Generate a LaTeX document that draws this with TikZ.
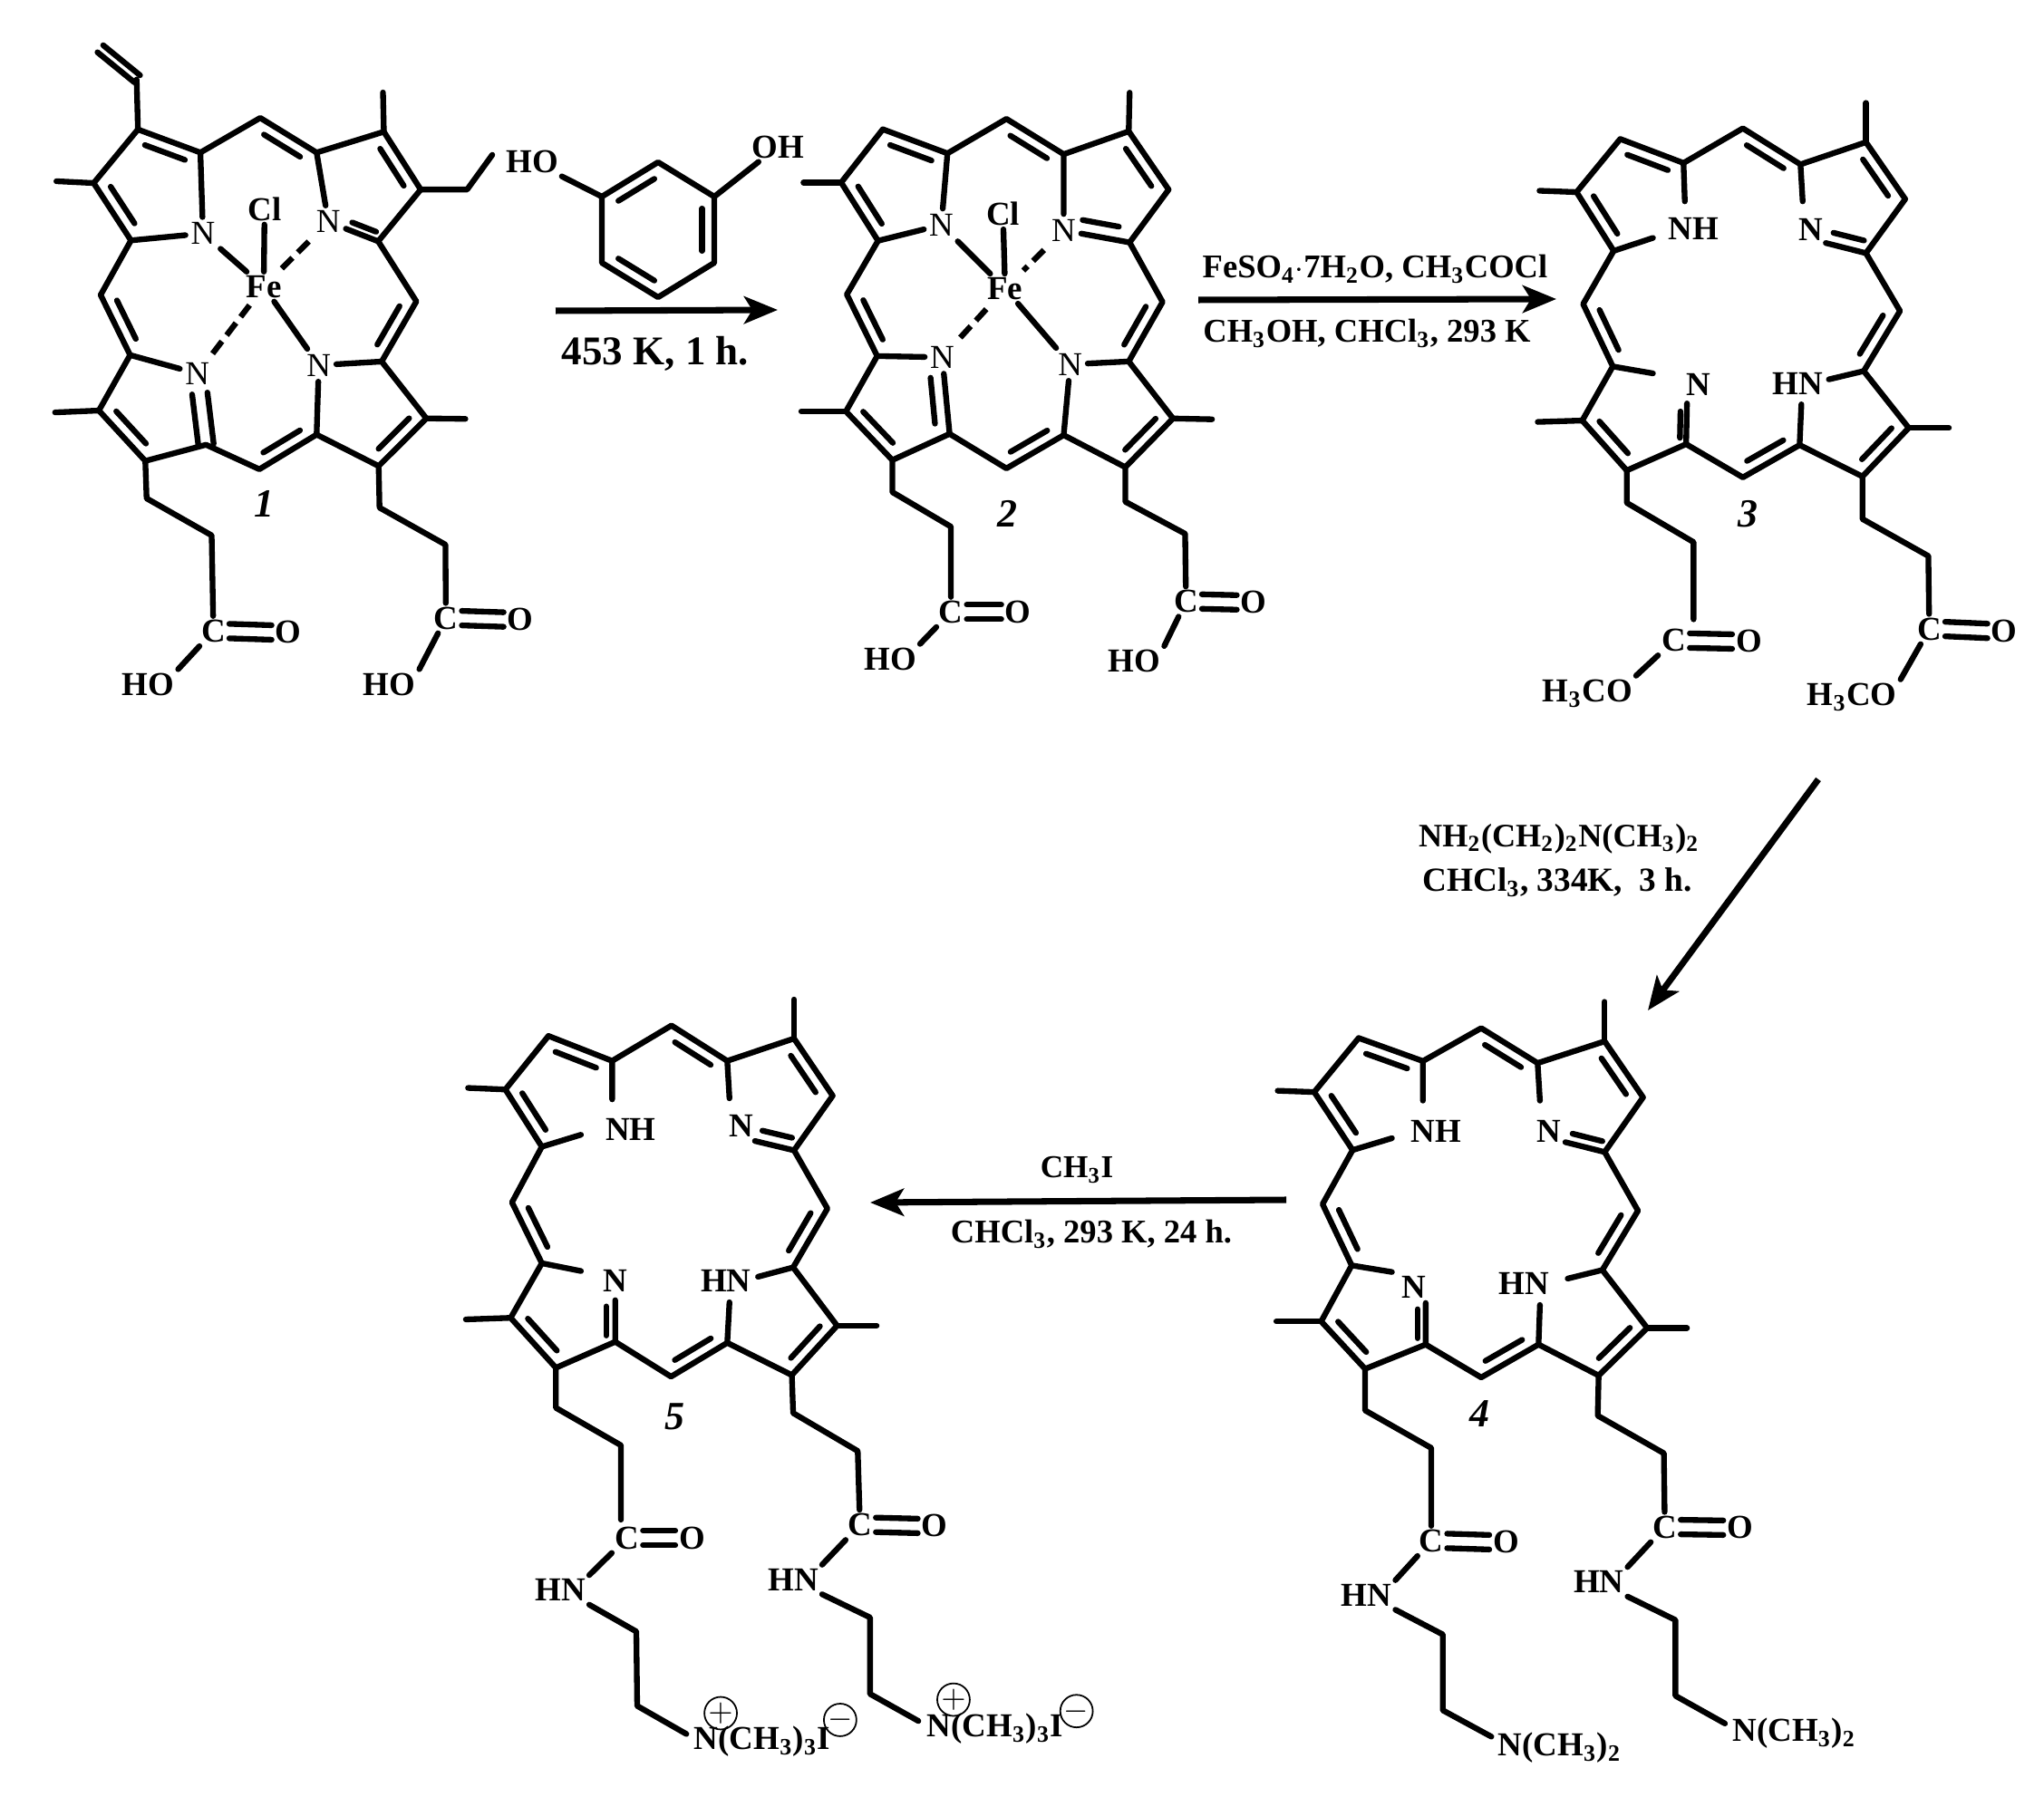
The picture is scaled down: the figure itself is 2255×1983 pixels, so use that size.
\documentclass[tikz,border=0pt]{standalone}
\usepackage{fontspec}
\setmainfont{Liberation Serif}
\usetikzlibrary{calc,arrows.meta}
\tikzset{
  bond/.style={line width=1.8pt,line join=round,line cap=round},
  dashbond/.style={bond,line cap=butt,shorten >=.05cm,shorten <=.05cm,dash pattern=on .17cm off .085cm},
  atom/.style={font=\bfseries\fontsize{10.5}{12}\selectfont,inner sep=1pt},
  atomn/.style={font=\fontsize{10.5}{12}\selectfont,inner sep=1.5pt},
  tag/.style={font=\bfseries\itshape\fontsize{12.5}{14}\selectfont,inner sep=0pt},
  cond/.style={font=\bfseries\fontsize{10.4}{12}\selectfont,inner sep=0pt},
  charge/.style={circle,draw,line width=.5pt,minimum size=.29cm,inner sep=0pt},
  rxn/.style={line width=2pt,-{Stealth[length=.37cm,width=.3cm,inset=.09cm]}},
}
% inner line of a double bond, on the left of the direction a to b
\newcommand{\inbond}[5][.135cm]{\draw[bond] ($(#2)!#4!(#3)!#1!90:(#3)$) -- ($(#3)!#5!(#2)!#1!-90:(#2)$);}
% carbon skeleton, same in all five
\newcommand{\porphring}[1]{%
  \draw[bond] (#1a1)--(#1a2)--(#1a3)--(#1m4)--(#1d4)--(#1d3)--(#1d2)--(#1d1)--(#1m3)--(#1c4)--(#1c3)--(#1c2)--(#1c1)--(#1m2)--(#1b4)--(#1b3)--(#1b2)--(#1b1)--(#1m1)--(#1a4)--cycle;
  \foreach \p/\q in {a4/a1,a2/a3,b1/m1,b3/b2,c1/m2,c3/c2,m3/c4,d3/d2,m4/d4}
    \inbond{#1\p}{#1\q}{.18}{.18};
  \foreach \p/\q in {a2/h1,b2/h2,c2/h3,d3/h4}
    \draw[bond] (#1\p) -- (#1\q);
}
\begin{document}
\begin{tikzpicture}[x=.01cm,y=-.01cm]
\useasboundingbox (0,0) rectangle (2255,1983);

% compound 1
\begin{scope}[xscale=.4785,yscale=.5102]
  \foreach \n/\x/\y in {a1/318/280,a2/216/396,a3/302/520,a4/462/330,m1/600/255,b1/730/330,b2/885/285,b3/970/410,b4/872/522,
    m2/960/652,c1/880/782,c2/983/905,c3/873/1008,c4/730/940,m3/598/1015,d1/475/962,d2/335/997,d3/228/888,d4/300/768,m4/232/638,
    h1/130/392,h2/883/200,h3/1073/906,h4/127/892,v1/315/172,v2/230/107,e1/1077/410,e2/1135/335,
    s1/338/1078,s2/488/1158,t1/875/1098,t2/1027/1178}
    \coordinate (m1\n) at (\x,\y);
  \node[atomn] (m1N1) at (468,505) {N};
  \node[atomn] (m1N2) at (757,480) {N};
  \node[atomn] (m1N3) at (735,790) {N};
  \node[atomn] (m1N4) at (455,808) {N};
  \node[atom] (m1Fe) at (608,620) {Fe};
  \node[atom] (m1Cl) at (610,452) {Cl};
  \node[atom] (m1C1) at (492,1365) {C};
  \node[atom] (m1O1) at (665,1368) {O};
  \node[atom] (m1HO1) at (342,1480) {HO};
  \node[atom] (m1C2) at (1028,1337) {C};
  \node[atom] (m1O2) at (1200,1340) {O};
  \node[atom] (m1HO2) at (898,1480) {HO};
  \node[tag] (m1tag) at (610,1090) {1};
\end{scope}
\porphring{m1}
\draw[bond] (m1a3) -- (m1N1) -- (m1a4) (m1b1) -- (m1N2) -- (m1b4) (m1c1) -- (m1N3) -- (m1c4);
\draw[bond] (m1d4) -- (m1N4);
\inbond[.085cm]{m1d1}{m1N4}{0}{.28}
\inbond[-.085cm]{m1d1}{m1N4}{0}{.28}
\inbond[.09cm]{m1N2}{m1b4}{.42}{.1}
\draw[bond] (m1a1) -- (m1v1);
\inbond[.04cm]{m1v1}{m1v2}{0}{0}
\inbond[-.06cm]{m1v1}{m1v2}{0}{0}
\draw[bond] (m1b3) -- (m1e1) -- (m1e2);
\draw[bond] (m1N1) -- (m1Fe) (m1N3) -- (m1Fe) (m1Cl) -- (m1Fe);
\draw[dashbond] (m1N2) -- (m1Fe);
\draw[dashbond] (m1N4) -- (m1Fe);
\draw[bond] (m1d2) -- (m1s1) -- (m1s2) -- (m1C1);
\draw[bond] (m1c3) -- (m1t1) -- (m1t2) -- (m1C2);
\draw[bond] ([yshift=.08cm]m1C1.east) -- ([yshift=.08cm]m1O1.west);
\draw[bond] ([yshift=-.08cm]m1C1.east) -- ([yshift=-.08cm]m1O1.west);
\draw[bond] ([yshift=.08cm]m1C2.east) -- ([yshift=.08cm]m1O2.west);
\draw[bond] ([yshift=-.08cm]m1C2.east) -- ([yshift=-.08cm]m1O2.west);
\draw[bond] (m1C1) -- (m1HO1.north east);
\draw[bond] (m1C2) -- (m1HO2.north east);

% resorcinol
\foreach \n/\x/\y in {r1/726/179,r2/664/217,r3/664/290,r4/726/328,r5/788/290,r6/788/217}
  \coordinate (\n) at (\x,\y);
\node[atom] (rHO) at (587,178) {HO};
\node[atom] (rOH) at (858,162) {OH};
\draw[bond] (r1) -- (r2) -- (r3) -- (r4) -- (r5) -- (r6) -- cycle;
\foreach \p/\q in {r1/r2,r3/r4,r5/r6}
  \inbond{\p}{\q}{.18}{.18};
\draw[bond] (r2) -- (rHO);
\draw[bond] (r6) -- (rOH);

% first arrow
\coordinate (ar1a) at (613,343);
\coordinate (ar1b) at (858,342);
\draw[rxn] (ar1a) -- (ar1b);
\node[cond,font=\bfseries\fontsize{12.8}{14}\selectfont] (ar1t) at (723,390) {453 K, 1 h.};

% compound 2
\begin{scope}[shift={(750,60)},xscale=.4785,yscale=.4592]
  \foreach \n/\x/\y in {a1/468/180,a2/372/308,a3/457/448,a4/617/238,m1/753/155,b1/885/240,b2/1035/185,b3/1127/325,b4/1037/452,
    m2/1113/595,c1/1035/738,c2/1137/875,c3/1027/992,c4/885/915,m3/753/995,d1/622/912,d2/490/975,d3/383/858,d4/455/725,m4/385/577,
    h1/285/308,h2/1037/92,h3/1227/877,h4/280/858,
    s1/490/1052,s2/625/1135,t1/1027/1075,t2/1165/1152}
    \coordinate (m2\n) at (\x,\y);
  \node[atomn] (m2N1) at (603,410) {N};
  \node[atomn] (m2N2) at (885,423) {N};
  \node[atomn] (m2N3) at (900,745) {N};
  \node[atomn] (m2N4) at (605,728) {N};
  \node[atom] (m2Fe) at (750,563) {Fe};
  \node[atom] (m2Cl) at (745,383) {Cl};
  \node[atom] (m2C1) at (625,1340) {C};
  \node[atom] (m2O1) at (780,1340) {O};
  \node[atom] (m2HO1) at (485,1453) {HO};
  \node[atom] (m2C2) at (1167,1315) {C};
  \node[atom] (m2O2) at (1323,1317) {O};
  \node[atom] (m2HO2) at (1048,1458) {HO};
  \node[tag] (m2tag) at (755,1105) {2};
\end{scope}
\porphring{m2}
\draw[bond] (m2a3) -- (m2N1) -- (m2a4) (m2b1) -- (m2N2) -- (m2b4) (m2c1) -- (m2N3) -- (m2c4);
\draw[bond] (m2d4) -- (m2N4) -- (m2d1);
\inbond[.15cm]{m2d1}{m2N4}{.15}{.25}
\inbond[.15cm]{m2N2}{m2b4}{.25}{.2}
\draw[bond] (m2N1) -- (m2Fe) (m2N3) -- (m2Fe) (m2Cl) -- (m2Fe);
\draw[dashbond] (m2N2) -- (m2Fe);
\draw[dashbond] (m2N4) -- (m2Fe);
\draw[bond] (m2d2) -- (m2s1) -- (m2s2) -- (m2C1);
\draw[bond] (m2c3) -- (m2t1) -- (m2t2) -- (m2C2);
\draw[bond] ([yshift=.08cm]m2C1.east) -- ([yshift=.08cm]m2O1.west);
\draw[bond] ([yshift=-.08cm]m2C1.east) -- ([yshift=-.08cm]m2O1.west);
\draw[bond] ([yshift=.08cm]m2C2.east) -- ([yshift=.08cm]m2O2.west);
\draw[bond] ([yshift=-.08cm]m2C2.east) -- ([yshift=-.08cm]m2O2.west);
\draw[bond] (m2C1) -- (m2HO1.north east);
\draw[bond] (m2C2) -- (m2HO2.north east);

% second arrow
\coordinate (ar2a) at (1322,331);
\coordinate (ar2b) at (1717,330);
\draw[rxn] (ar2a) -- (ar2b);
\node[cond] (ar2t) at (1517,297) {FeSO\textsubscript{4}$\cdot$7H\textsubscript{2}O, CH\textsubscript{3}COCl};
\node[cond] (ar2u) at (1508,368) {CH\textsubscript{3}OH, CHCl\textsubscript{3}, 293 K};

% compound 3
\begin{scope}[shift={(1500,60)},xscale=.4815,yscale=.5102]
  \foreach \n/\x/\y in {a1/597/183,a2/497/298,a3/582/425,a4/742/235,m1/878/160,b1/1010/238,b2/1160/190,b3/1250/313,b4/1160/430,
    m2/1238/555,c1/1155/685,c2/1258/808,c3/1152/913,c4/1008/845,m3/878/915,d1/748/843,d2/612/900,d3/510/792,d4/580/675,m4/512/540,
    h1/412/295,h2/1160/105,h3/1350/808,h4/408/795,
    q1/745/318,q2/672/397,q3/1015/318,q4/1068/408,q5/1075/703,q6/1012/757,q7/672/690,q8/750/755,
    s1/612/970,s2/765/1055,s3/765/1222,t1/1152/1005,t2/1303/1085}
    \coordinate (m3\n) at (\x,\y);
  \node[atom] (m3NH) at (765,377) {NH};
  \node[atom] (m3N2) at (1033,380) {N};
  \node[atom] (m3HN) at (1003,712) {HN};
  \node[atom] (m3N4) at (777,715) {N};
  \node[atom] (m3C1) at (720,1268) {C};
  \node[atom] (m3O1) at (892,1270) {O};
  \node[atom] (m3Me1) at (522,1382) {H\textsubscript{3}CO};
  \node[atom] (m3C2) at (1305,1243) {C};
  \node[atom] (m3O2) at (1477,1247) {O};
  \node[atom] (m3Me2) at (1128,1390) {H\textsubscript{3}CO};
  \node[tag] (m3tag) at (890,995) {3};
\end{scope}
\porphring{m3}
\draw[bond] (m3a4) -- (m3q1) (m3a3) -- (m3q2) (m3b1) -- (m3q3) (m3b4) -- (m3q4);
\draw[bond] (m3c1) -- (m3q5) (m3c4) -- (m3q6) (m3d4) -- (m3q7) (m3d1) -- (m3q8);
\inbond[.13cm]{m3q4}{m3b4}{.12}{.12}
\inbond[.07cm]{m3d1}{m3q8}{.15}{.2}
\draw[bond] (m3d2) -- (m3s1) -- (m3s2) -- (m3s3);
\draw[bond] (m3c3) -- (m3t1) -- (m3t2) -- (m3C2);
\draw[bond] ([yshift=.08cm]m3C1.east) -- ([yshift=.08cm]m3O1.west);
\draw[bond] ([yshift=-.08cm]m3C1.east) -- ([yshift=-.08cm]m3O1.west);
\draw[bond] ([yshift=.08cm]m3C2.east) -- ([yshift=.08cm]m3O2.west);
\draw[bond] ([yshift=-.08cm]m3C2.east) -- ([yshift=-.08cm]m3O2.west);
\draw[bond] (m3C1) -- (m3Me1.north east);
\draw[bond] (m3C2) -- (m3Me2.north east);

% third arrow
\coordinate (ar3a) at (2006,860);
\coordinate (ar3b) at (1818,1115);
\draw[rxn] (ar3a) -- (ar3b);
\node[cond,font=\bfseries\fontsize{10.3}{12}\selectfont] (ar3t) at (1720,926) {NH\textsubscript{2}(CH\textsubscript{2})\textsubscript{2}N(CH\textsubscript{3})\textsubscript{2}};
\node[cond,font=\bfseries\fontsize{10.6}{12}\selectfont] (ar3u) at (1718,974) {CHCl\textsubscript{3}, 334K,\ \ 3 h.};

% compound 4
\begin{scope}[shift={(1380,840)},xscale=.5102,yscale=.7273]
  \foreach \n/\x/\y in {a1/233/420,a2/137/502,a3/220/590,a4/372/455,m1/498/405,b1/620/458,b2/765/425,b3/848/510,b4/765/593,
    m2/837/682,c1/760/772,c2/857/860,c3/752/932,c4/622/885,m3/498/935,d1/378/885,d2/247/922,d3/152/850,d4/218/765,m4/155/672,
    h1/58/500,h2/765/365,h3/943/860,h4/55/850,
    q1/372/515,q2/305/572,q3/625/515,q4/680/578,q5/685/785,q6/625/825,q7/305/775,q8/378/822,
    s1/247/985,s2/390/1042,t1/750/993,t2/893/1050,
    u1/415/1325,u2/415/1440,u3/520/1480,w1/918/1303,w2/918/1418,w3/1025/1460}
    \coordinate (m4\n) at (\x,\y);
  \node[atom] (m4NH) at (400,562) {NH};
  \node[atom] (m4N2) at (645,562) {N};
  \node[atom] (m4HN) at (590,792) {HN};
  \node[atom] (m4N4) at (352,798) {N};
  \node[atom] (m4C1) at (390,1183) {C};
  \node[atom] (m4O1) at (552,1185) {O};
  \node[atom] (m4HN1) at (250,1265) {HN};
  \node[atom] (m4Am1) at (668,1497) {N(CH\textsubscript{3})\textsubscript{2}};
  \node[atom] (m4C2) at (895,1162) {C};
  \node[atom] (m4O2) at (1058,1163) {O};
  \node[atom] (m4HN2) at (752,1245) {HN};
  \node[atom] (m4Am2) at (1175,1475) {N(CH\textsubscript{3})\textsubscript{2}};
  \node[tag] (m4tag) at (495,990) {4};
\end{scope}
\porphring{m4}
\draw[bond] (m4a4) -- (m4q1) (m4a3) -- (m4q2) (m4b1) -- (m4q3) (m4b4) -- (m4q4);
\draw[bond] (m4c1) -- (m4q5) (m4c4) -- (m4q6) (m4d4) -- (m4q7) (m4d1) -- (m4q8);
\inbond[.11cm]{m4q4}{m4b4}{.12}{.12}
\inbond[.09cm]{m4d1}{m4q8}{.15}{.15}
\draw[bond] (m4d2) -- (m4s1) -- (m4s2) -- (m4C1);
\draw[bond] (m4c3) -- (m4t1) -- (m4t2) -- (m4C2);
\draw[bond] ([yshift=.08cm]m4C1.east) -- ([yshift=.08cm]m4O1.west);
\draw[bond] ([yshift=-.08cm]m4C1.east) -- ([yshift=-.08cm]m4O1.west);
\draw[bond] ([yshift=.08cm]m4C2.east) -- ([yshift=.08cm]m4O2.west);
\draw[bond] ([yshift=-.08cm]m4C2.east) -- ([yshift=-.08cm]m4O2.west);
\draw[bond] (m4C1) -- (m4HN1.north east);
\draw[bond] (m4C2) -- (m4HN2.north east);
\draw[bond] (m4HN1.south east) -- (m4u1) -- (m4u2) -- (m4u3);
\draw[bond] (m4HN2.south east) -- (m4w1) -- (m4w2) -- (m4w3);

% fourth arrow
\coordinate (ar4a) at (1419,1324);
\coordinate (ar4b) at (960,1327);
\draw[rxn] (ar4a) -- (ar4b);
\node[cond,font=\bfseries\fontsize{10}{12}\selectfont] (ar4t) at (1188,1291) {CH\textsubscript{3}I};
\node[cond] (ar4u) at (1204,1362) {CHCl\textsubscript{3}, 293 K, 24 h.};

% compound 5
\begin{scope}[shift={(480,1080)},xscale=.4847,yscale=.574]
  \foreach \n/\x/\y in {a1/258/110,a2/160/213,a3/243/323,a4/403/158,m1/538/90,b1/665/158,b2/817/115,b3/905/225,b4/817/330,
    m2/893/442,c1/815/555,c2/915/667,c3/812/762,c4/665/700,m3/537/765,d1/410/698,d2/275/748,d3/172/652,d4/243/547,m4/175/430,
    h1/75/210,h2/817/40,h3/1005/667,h4/70/655,
    q1/403/232,q2/332/300,q3/670/230,q4/728/312,q5/735/573,q6/670/622,q7/332/562,q8/410/618,
    s1/275/825,s2/423/897,s3/423/1040,t1/815/835,t2/962/908,
    u1/458/1255,u2/460/1398,u3/572/1452,w1/990/1228,w2/990/1375,w3/1100/1427}
    \coordinate (m5\n) at (\x,\y);
  \node[atom] (m5NH) at (445,290) {NH};
  \node[atom] (m5N2) at (698,283) {N};
  \node[atom] (m5HN) at (662,580) {HN};
  \node[atom] (m5N4) at (410,580) {N};
  \node[atom] (m5C1) at (437,1075) {C};
  \node[atom] (m5O1) at (585,1075) {O};
  \node[atom] (m5HN1) at (285,1175) {HN};
  \node[atom] (m5Am1) at (745,1467) {N(CH\textsubscript{3})\textsubscript{3}I};
  \node[charge] (m5p1) at (650,1412) {$+$};
  \node[charge] (m5n1) at (922,1425) {$-$};
  \node[atom] (m5C2) at (967,1050) {C};
  \node[atom] (m5O2) at (1137,1052) {O};
  \node[atom] (m5HN2) at (815,1155) {HN};
  \node[atom] (m5Am2) at (1275,1442) {N(CH\textsubscript{3})\textsubscript{3}I};
  \node[charge] (m5p2) at (1180,1386) {$+$};
  \node[charge] (m5n2) at (1460,1408) {$-$};
  \node[tag] (m5tag) at (545,842) {5};
\end{scope}
\porphring{m5}
\draw[bond] (m5a4) -- (m5q1) (m5a3) -- (m5q2) (m5b1) -- (m5q3) (m5b4) -- (m5q4);
\draw[bond] (m5c1) -- (m5q5) (m5c4) -- (m5q6) (m5d4) -- (m5q7) (m5d1) -- (m5q8);
\inbond[.13cm]{m5q4}{m5b4}{.12}{.12}
\inbond[.1cm]{m5d1}{m5q8}{.15}{.15}
\draw[bond] (m5d2) -- (m5s1) -- (m5s2) -- (m5s3);
\draw[bond] (m5c3) -- (m5t1) -- (m5t2) -- (m5C2);
\draw[bond] ([yshift=.08cm]m5C1.east) -- ([yshift=.08cm]m5O1.west);
\draw[bond] ([yshift=-.08cm]m5C1.east) -- ([yshift=-.08cm]m5O1.west);
\draw[bond] ([yshift=.08cm]m5C2.east) -- ([yshift=.08cm]m5O2.west);
\draw[bond] ([yshift=-.08cm]m5C2.east) -- ([yshift=-.08cm]m5O2.west);
\draw[bond] (m5C1) -- (m5HN1.north east);
\draw[bond] (m5C2) -- (m5HN2.north east);
\draw[bond] (m5HN1.south east) -- (m5u1) -- (m5u2) -- (m5u3);
\draw[bond] (m5HN2.south east) -- (m5w1) -- (m5w2) -- (m5w3);
\end{tikzpicture}
\end{document}
